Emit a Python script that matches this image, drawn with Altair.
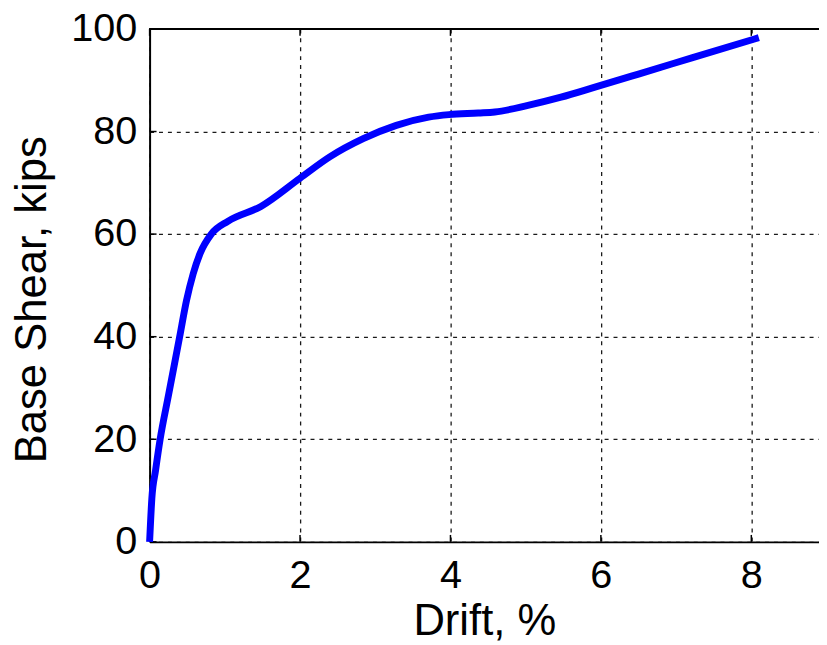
import altair as alt
import pandas as pd

# Pushover curve
drift = [0, 0.03, 0.08, 0.14, 0.25, 0.40, 0.49, 0.58, 0.67, 0.82, 1.04, 1.48, 2.0, 2.4,
         2.84, 3.28, 3.71, 3.98, 4.37, 4.59, 5.03, 5.47, 5.91, 6.5, 7.22, 8.1]
shear = [0, 8.5, 14, 20, 28.5, 40, 47, 52.3, 56.2, 60, 62.5, 65.4, 70.9, 75.1,
         78.6, 81.2, 82.8, 83.3, 83.6, 83.8, 85.1, 86.7, 88.6, 91.2, 94.4, 98.3]

x_ticks = [0, 2, 4, 6, 8]
y_ticks = [0, 20, 40, 60, 80, 100]

W, H = 676, 518
FONT = "Liberation Sans"

df = pd.DataFrame({"drift": drift, "shear": shear})
dfx = pd.DataFrame({"t": x_ticks})
dfy = pd.DataFrame({"t": y_ticks})

xs = alt.Scale(domain=[0, 8.9], nice=False, zero=False)
ys = alt.Scale(domain=[0, 100], nice=False)

GRID = dict(grid=True, gridDash=[4, 5], gridColor="#1a1a1a", gridWidth=1.3)

xaxis = alt.Axis(values=x_ticks, format="d", ticks=False, domain=True, domainColor="black",
                 domainWidth=2, labelFont=FONT, labelFontSize=40, labelColor="black",
                 labelBaseline="alphabetic", labelPadding=46, labelFlush=False,
                 title="Drift, %", titleFont=FONT, titleFontSize=44,
                 titleFontWeight="normal", titleColor="black",
                 titleBaseline="alphabetic", titleY=94, **GRID)
yaxis = alt.Axis(values=y_ticks, format="d", ticks=False, domain=True, domainColor="black",
                 domainWidth=2, labelFont=FONT, labelFontSize=40, labelColor="black",
                 labelBaseline="middle", labelAlign="right", labelPadding=13,
                 labelFlush=False,
                 title="Base Shear, kips", titleFont=FONT, titleFontSize=44,
                 titleFontWeight="normal", titleColor="black", titleAngle=270,
                 titleBaseline="alphabetic", titleAlign="center",
                 titleX=-105, titleY=273, **GRID)

line = alt.Chart(df).mark_line(color="#0000ff", strokeWidth=7, interpolate="monotone").encode(
    x=alt.X("drift:Q", scale=xs, axis=xaxis),
    y=alt.Y("shear:Q", scale=ys, axis=yaxis),
)

top_border = alt.Chart(dfx).mark_rule(color="black", strokeWidth=2).encode(
    x=alt.value(0), x2=alt.value(W), y=alt.value(0)
)

xt_bottom = alt.Chart(dfx).mark_rule(color="black", strokeWidth=1.5).encode(
    x=alt.X("t:Q", scale=xs), y=alt.value(H), y2=alt.value(H - 7)
)
xt_top = alt.Chart(dfx).mark_rule(color="black", strokeWidth=1.5).encode(
    x=alt.X("t:Q", scale=xs), y=alt.value(0), y2=alt.value(7)
)
yt_left = alt.Chart(dfy).mark_rule(color="black", strokeWidth=1.5).encode(
    y=alt.Y("t:Q", scale=ys), x=alt.value(0), x2=alt.value(7)
)

chart = alt.layer(top_border, xt_bottom, xt_top, yt_left, line).properties(
    width=W, height=H,
    autosize=alt.AutoSizeParams(type="none"),
    padding={"left": 143, "top": 18, "right": 0, "bottom": 100},
).configure_view(stroke=None).configure(background="white")

chart.save("out.html", embed_options={"renderer": "svg", "actions": False})
